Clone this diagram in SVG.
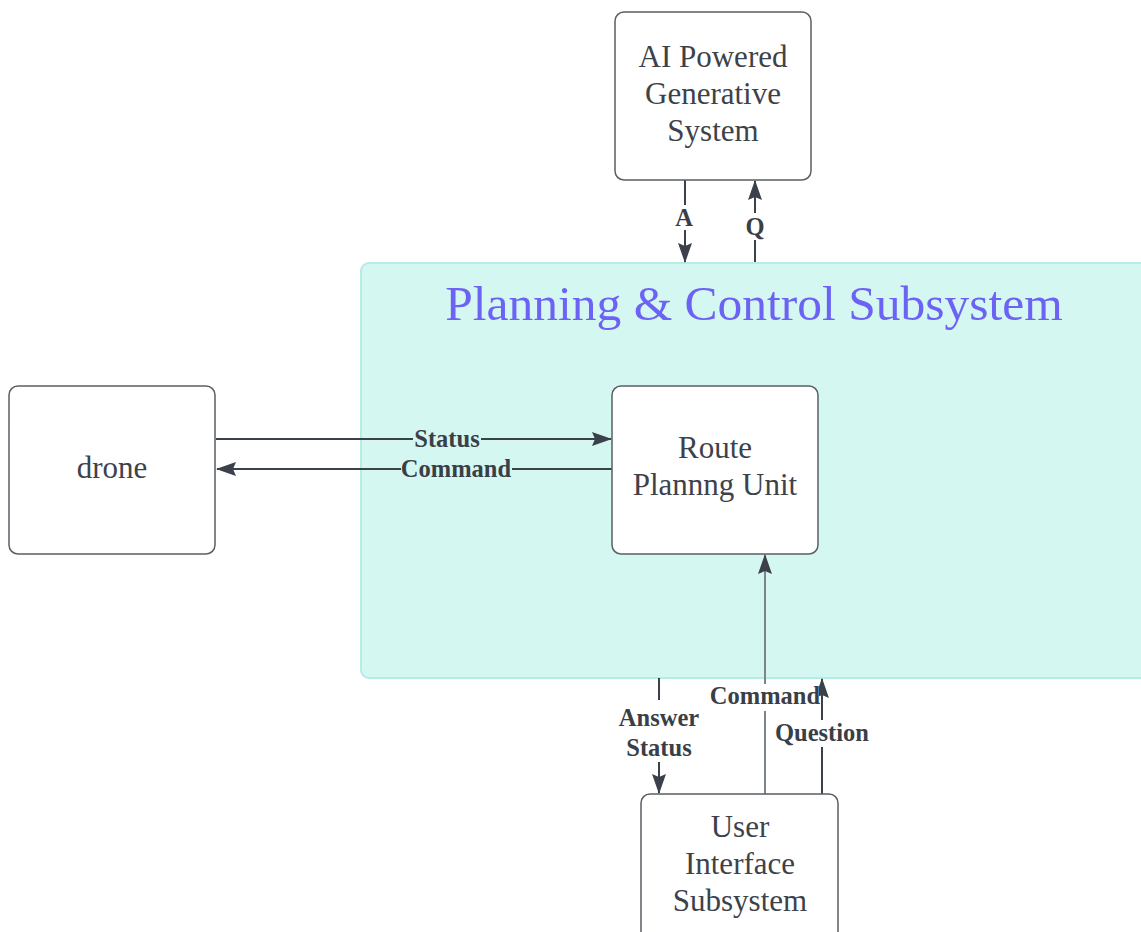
<svg xmlns="http://www.w3.org/2000/svg" width="1141" height="932" viewBox="0 0 1141 932">
<defs>
<style>
.node rect{fill:#ffffff;stroke:#5a5f66;stroke-width:1.5}
.nt{font-family:'Liberation Serif',serif;font-size:31px;fill:#3d424a;text-anchor:middle}
.lbl{font-family:'Liberation Serif',serif;font-size:24.5px;font-weight:bold;fill:#3a3f47;text-anchor:middle}
.ln{stroke:#3a414a;stroke-width:2;fill:none}
</style>
<marker id="a2" viewBox="0 0 20 16" refX="19" refY="8" markerWidth="20" markerHeight="16" markerUnits="userSpaceOnUse" orient="auto">
<path d="M0,1 L20,8 L0,15 L3,8 Z" fill="#3a414a"/>
</marker>
</defs>
<rect width="1141" height="932" fill="#ffffff"/>
<g id="planning-control-subsystem">
<rect x="361" y="263" width="800" height="415" rx="8" fill="#d5f7f2" stroke="#b5ede5" stroke-width="2"/>
<text x="754" y="320" font-family="'Liberation Serif', serif" font-size="49.5" fill="#6c63f5" text-anchor="middle">Planning &amp; Control Subsystem</text>
</g>
<g id="connectors">
<line class="ln" x1="685" y1="180" x2="685" y2="262" marker-end="url(#a2)"/>
<line class="ln" x1="755" y1="262" x2="755" y2="181" marker-end="url(#a2)"/>
<line class="ln" x1="216" y1="439" x2="611" y2="439" marker-end="url(#a2)"/>
<line class="ln" x1="612" y1="469" x2="217" y2="469" marker-end="url(#a2)"/>
<line class="ln" x1="659" y1="678" x2="659" y2="793" marker-end="url(#a2)"/>
<line x1="765" y1="794" x2="765" y2="555" stroke="#7d858c" stroke-width="2" marker-end="url(#a2)"/>
<line class="ln" x1="822" y1="794" x2="822" y2="679" marker-end="url(#a2)"/>
<rect x="674" y="205" width="22" height="25" fill="#ffffff"/>
<text class="lbl" x="684" y="226">A</text>
<rect x="743" y="213" width="24" height="27" fill="#ffffff"/>
<text class="lbl" x="755" y="235">Q</text>
<rect x="413" y="430" width="68" height="18" fill="#d5f7f2"/>
<text class="lbl" x="447" y="447">Status</text>
<rect x="401" y="460" width="111" height="18" fill="#d5f7f2"/>
<text class="lbl" x="456" y="477">Command</text>
<rect x="615" y="700" width="88" height="62" fill="#ffffff"/>
<text class="lbl" x="659" y="726">Answer</text>
<text class="lbl" x="659" y="756">Status</text>
<rect x="709" y="684" width="110" height="27" fill="#ffffff"/>
<text class="lbl" x="765" y="704">Command</text>
<rect x="773" y="720" width="98" height="27" fill="#ffffff"/>
<text class="lbl" x="822" y="741">Question</text>
</g>
<g id="ai-powered-generative-system" class="node">
<rect x="615" y="12" width="196" height="168" rx="9"/>
<text class="nt" x="713" y="67">AI Powered</text>
<text class="nt" x="713" y="104">Generative</text>
<text class="nt" x="713" y="141">System</text>
</g>
<g id="drone" class="node">
<rect x="9" y="386" width="206" height="168" rx="9"/>
<text class="nt" x="112" y="478">drone</text>
</g>
<g id="route-planning-unit" class="node">
<rect x="612" y="386" width="206" height="168" rx="9"/>
<text class="nt" x="715" y="458">Route</text>
<text class="nt" x="715" y="495">Plannng Unit</text>
</g>
<g id="user-interface-subsystem" class="node">
<rect x="641" y="794" width="197" height="150" rx="9"/>
<text class="nt" x="740" y="837">User</text>
<text class="nt" x="740" y="874">Interface</text>
<text class="nt" x="740" y="911">Subsystem</text>
</g>
</svg>
